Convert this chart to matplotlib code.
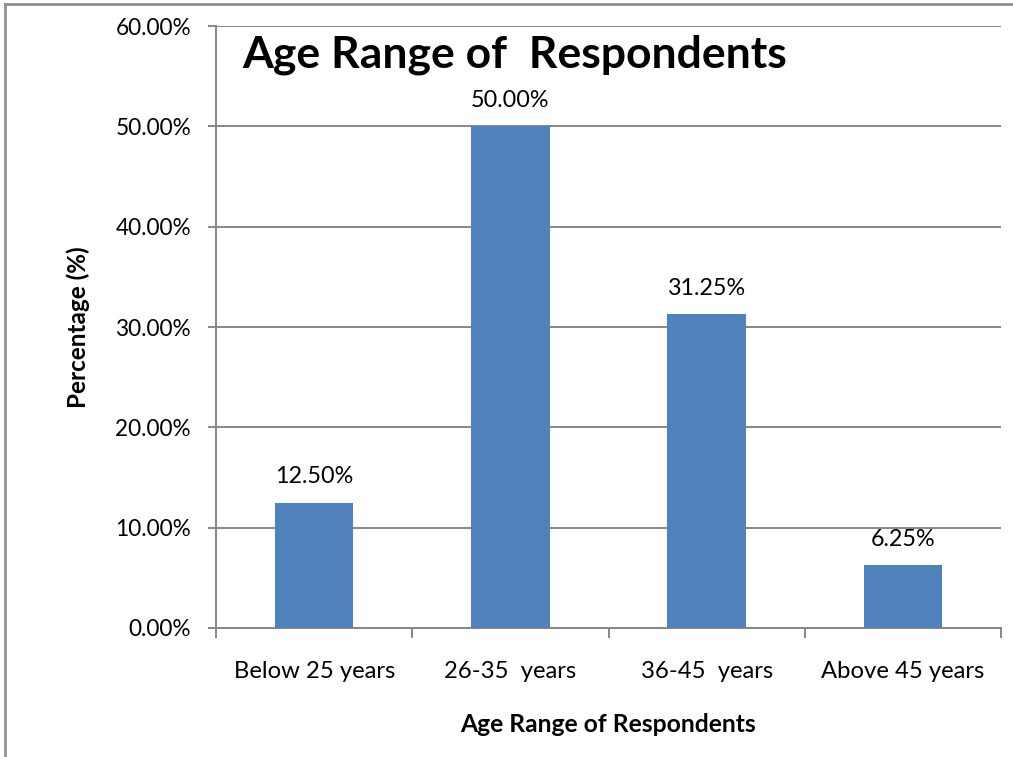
import matplotlib.pyplot as plt
from matplotlib.lines import Line2D
from matplotlib.ticker import FuncFormatter, FixedLocator

plt.rcParams["font.family"] = ["Lato", "DejaVu Sans"]

# Age groups and share of respondents (%)
categories = ["Below 25 years", "26-35  years", "36-45  years", "Above 45 years"]
percentages = [12.50, 50.00, 31.25, 6.25]

bar_color = "#4F81BD"
grid_color = "#868686"

fig = plt.figure(figsize=(10.13, 7.57), dpi=100)
ax = fig.add_axes([216 / 1013, 1 - 628 / 757, 785 / 1013, 602 / 757])

x = range(len(categories))
ax.bar(x, percentages, width=0.4, color=bar_color, zorder=3)

for xi, v in zip(x, percentages):
    ax.text(xi, v + 2.6, f"{v:.2f}%", ha="center", va="center", fontsize=16.8)

ax.set_xlim(-0.5, len(categories) - 0.5)
ax.set_ylim(0, 60)
ax.set_yticks(range(0, 61, 10))
ax.yaxis.set_major_formatter(FuncFormatter(lambda v, p: f"{v:.2f}%"))
ax.yaxis.grid(True, color=grid_color, linewidth=1.4, zorder=0)

# category labels centered, tick marks on category boundaries
ax.set_xticks(list(x))
ax.set_xticklabels(categories, fontsize=17.2)
ax.tick_params(axis="x", length=0, pad=24)
ax.xaxis.set_minor_locator(FixedLocator([i - 0.5 for i in range(len(categories) + 1)]))
ax.tick_params(axis="x", which="minor", length=7, width=1.4, color=grid_color)
ax.tick_params(axis="y", length=6, width=1.4, color=grid_color, labelsize=16.3, pad=12)

for side in ["top", "right"]:
    ax.spines[side].set_visible(False)
for side in ["left", "bottom"]:
    ax.spines[side].set_color(grid_color)
    ax.spines[side].set_linewidth(1.4)

ax.set_ylabel("Percentage (%)", fontsize=17.5, fontweight="bold", labelpad=18)
ax.set_xlabel("Age Range of Respondents", fontsize=17.7, fontweight="bold", labelpad=22)

fig.text(515 / 1013, 1 - 55 / 757, "Age Range of  Respondents", ha="center", va="center",
         fontsize=32, fontweight="bold")

# outer chart frame
fig.add_artist(Line2D([5 / 1013, 1], [1 - 4 / 757, 1 - 4 / 757], color="#909090", linewidth=2))
fig.add_artist(Line2D([5 / 1013, 5 / 1013], [0, 1 - 4 / 757], color="#909090", linewidth=2))

fig.savefig("out.png", dpi=100)
